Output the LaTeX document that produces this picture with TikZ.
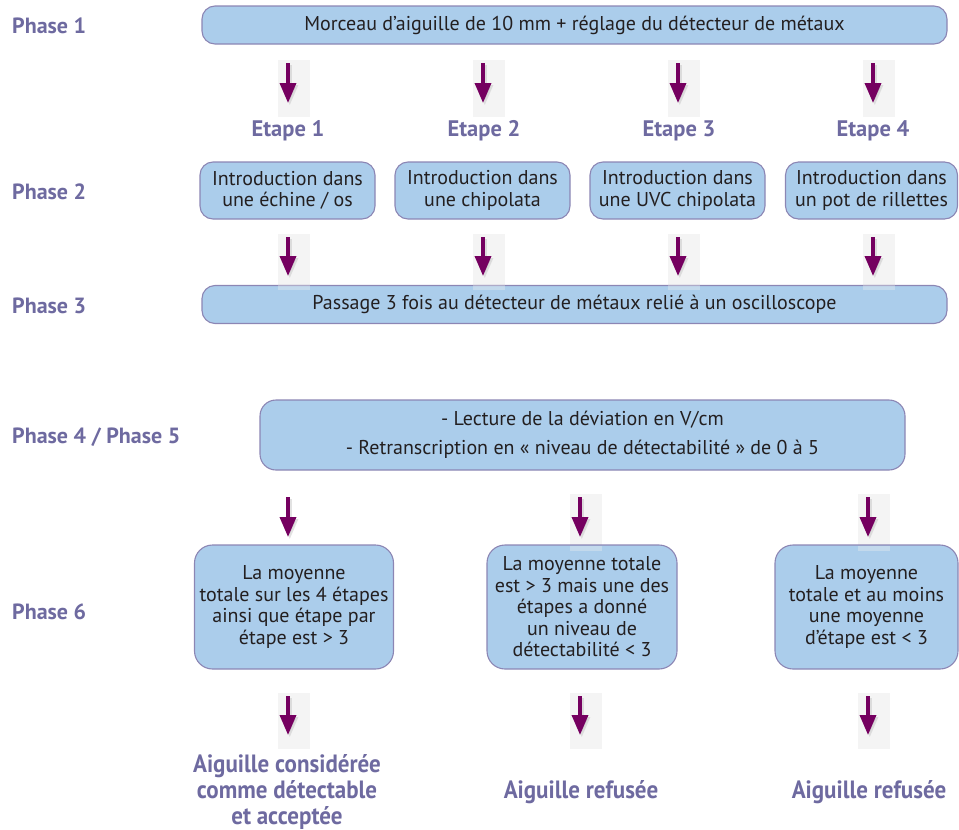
\documentclass[tikz,border=0pt]{standalone}
\usepackage{fontspec}
\setmainfont{PT Sans}
\usetikzlibrary{arrows.meta}
\definecolor{boxfill}{RGB}{171,205,235}
\definecolor{boxdraw}{RGB}{140,134,180}
\definecolor{labc}{RGB}{110,106,160}
\definecolor{txtc}{RGB}{35,31,32}
\definecolor{arrc}{RGB}{117,0,96}
\definecolor{bgc}{RGB}{240,240,240}
\tikzset{
  box/.style={draw=boxdraw, line width=1.1pt, fill=boxfill, rounded corners=13pt,
    text=txtc, font=\fontsize{20}{21.5}\selectfont, align=center, inner sep=0pt},
  bigbox/.style={box, rounded corners=18pt},
  phaselab/.style={anchor=west, text=labc, font=\fontsize{22}{24}\selectfont\bfseries, inner sep=0pt},
  etapelab/.style={text=labc, font=\fontsize{22.5}{24}\selectfont\bfseries, inner sep=0pt},
  endlab/.style={text=labc, font=\fontsize{25}{26}\selectfont\bfseries, align=center, inner sep=0pt},
  arr/.style={draw=arrc, line width=3.5pt, -{Triangle[width=16pt,length=20pt]}},
  arrshadow/.style={draw=gray!45, opacity=0.5, line width=3.5pt, -{Triangle[width=16pt,length=20pt]}},
  bgrect/.style={fill=bgc, opacity=0.75, draw=none}
}
\newcommand{\myarrow}[3]{% x, ytop, ybottom
  \fill[bgrect] (#1-10,#2-3) rectangle (#1+22,#3+14);
  \coordinate (s#1-#2) at (#1,#2);
  \coordinate (e#1-#2) at (#1,#3);
  \draw[arrshadow] ([shift={(1.8,2.2)}]s#1-#2) -- ([shift={(1.8,2.2)}]e#1-#2);
  \draw[arr] (s#1-#2) -- (e#1-#2);
}
\newcommand{\cond}[1]{\scalebox{0.92}[1]{#1}}
\begin{document}
\begin{tikzpicture}[x=1pt,y=-1pt]
\useasboundingbox (0,0) rectangle (959,830);

% Phase labels
\node[phaselab] (p1) at (12,26) {Phase 1};
\node[phaselab] (p2) at (12,192) {Phase 2};
\node[phaselab] (p3) at (12,306) {Phase 3};
\node[phaselab] (p45) at (12,437) {Phase 4 / Phase 5};
\node[phaselab] (p6) at (12,612) {Phase 6};

% Phase 1 box
\node[box, minimum width=745pt, minimum height=38pt] (b1) at (574.5,25)
  {Morceau d’aiguille de 10 mm + réglage du détecteur de métaux};

% Arrows row 1
\myarrow{288}{63}{103}
\myarrow{483}{63}{103}
\myarrow{678}{63}{103}
\myarrow{873}{63}{103}

% Etape labels
\node[etapelab] (e1) at (288,131) {Etape 1};
\node[etapelab] (e2) at (484,131) {Etape 2};
\node[etapelab] (e3) at (679,131) {Etape 3};
\node[etapelab] (e4) at (873,131) {Etape 4};

% Phase 2 boxes
\node[box, minimum width=175pt, minimum height=57pt] (i1) at (287.5,190.5)
  {Introduction dans\\une échine / os};
\node[box, minimum width=175pt, minimum height=57pt] (i2) at (482.5,190.5)
  {Introduction dans\\une chipolata};
\node[box, minimum width=175pt, minimum height=57pt] (i3) at (677.5,190.5)
  {Introduction dans\\une UVC chipolata};
\node[box, minimum width=172pt, minimum height=57pt] (i4) at (871.5,190.5)
  {Introduction dans\\un pot de rillettes};

% Arrows row 2
\myarrow{288}{237}{276}
\myarrow{483}{237}{276}
\myarrow{678}{237}{276}
\myarrow{873}{237}{276}

% Phase 3 box
\node[box, minimum width=745pt, minimum height=38pt] (b3) at (574.5,304.5)
  {Passage 3 fois au détecteur de métaux relié à un oscilloscope};
\foreach \xx in {288,483,678,873} {\fill[bgrect, opacity=0.35] (\xx-10,285) rectangle (\xx+22,290);}

% Phase 4/5 box
\node[box, minimum width=645pt, minimum height=70pt, rounded corners=16pt] (b45) at (582.5,435)
  {- Lecture de la déviation en V/cm\\[7pt]- Retranscription en « niveau de détectabilité » de 0 à 5};

% Arrows row 3
\coordinate (s3a) at (288,497); \coordinate (e3a) at (288,537);
\draw[arrshadow] ([shift={(1.8,2.2)}]s3a) -- ([shift={(1.8,2.2)}]e3a);
\draw[arr] (s3a) -- (e3a);
\myarrow{580}{497}{537}
\myarrow{868}{497}{537}

% Phase 6 boxes
\node[bigbox, minimum width=199pt, minimum height=124pt] (c1) at (294,607)
  {La moyenne\\totale sur les 4 étapes\\ainsi que étape par\\étape est > 3};
\node[bigbox, minimum width=190pt, minimum height=124pt] (c2) at (582,607)
  {La moyenne totale\\est > 3 mais une des\\étapes a donné\\un niveau de\\détectabilité < 3};
\node[bigbox, minimum width=183pt, minimum height=124pt] (c3) at (866.5,607)
  {La moyenne\\totale et au moins\\une moyenne\\d’étape est < 3};
\foreach \xx in {580,868} {\fill[bgrect, opacity=0.35] (\xx-10,546) rectangle (\xx+22,551);}

% Arrows row 4
\myarrow{288}{696}{735}
\myarrow{580}{696}{735}
\myarrow{868}{696}{735}

% End labels
\node[endlab] (r1) at (287,792) {\cond{Aiguille considérée}\\\cond{comme détectable}\\\cond{et acceptée}};
\node[endlab] (r2) at (581,792) {\cond{Aiguille refusée}};
\node[endlab] (r3) at (869,792) {\cond{Aiguille refusée}};
\end{tikzpicture}
\end{document}
